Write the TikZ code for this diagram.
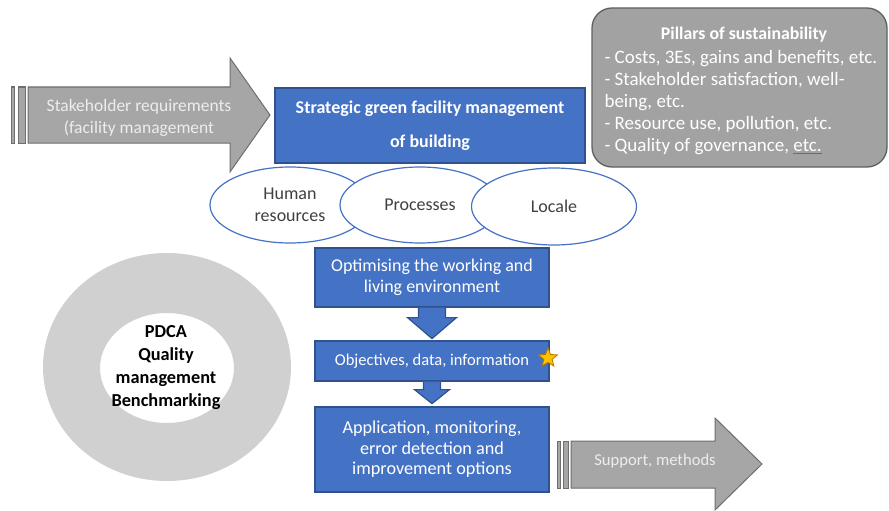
\documentclass[tikz,border=0pt]{standalone}
\usepackage{fontspec}
\setmainfont{Carlito}
\usetikzlibrary{shapes.geometric,calc}

\definecolor{fmblue}{HTML}{4472C4}
\definecolor{fmblueedge}{HTML}{2F528F}
\definecolor{arrowgray}{HTML}{A6A6A6}
\definecolor{arrowedge}{HTML}{6E6E6E}
\definecolor{pillargray}{HTML}{A2A2A2}
\definecolor{pillaredge}{HTML}{606060}
\definecolor{lighttext}{HTML}{EDEDED}
\definecolor{ringgray}{HTML}{D0D0D0}
\definecolor{darktext}{HTML}{404040}
\definecolor{stargold}{HTML}{FFC000}
\definecolor{staredge}{HTML}{B07A00}
\definecolor{spellblue}{HTML}{3F6FD0}

\tikzset{
  bluebox/.style={draw=fmblueedge, fill=fmblue, line width=1.2pt, text=white,
    align=center, inner sep=0pt},
  bluearrow/.style={draw=fmblueedge, fill=fmblue, line width=1.2pt, line join=miter},
  blockarrow/.style={draw=arrowedge, fill=arrowgray, line width=1pt, line join=miter},
  lens/.style={ellipse, draw=fmblue, fill=white, line width=1.2pt, inner sep=0pt,
    minimum width=160pt, minimum height=76pt, text=darktext, align=center,
    font=\fontsize{18}{22}\selectfont},
  arrowlabel/.style={text=lighttext, align=center},
}

\begin{document}
\begin{tikzpicture}[x=1pt, y=-1pt]
\useasboundingbox (0,0) rectangle (889,511);

% ---- incoming requirements arrow
\draw[blockarrow] (11,87) rectangle (14,143);
\draw[blockarrow] (18,87) rectangle (25,143);
\draw[blockarrow] (28,87) -- (230,87) -- (230,58) -- (270,115) -- (230,172)
  -- (230,143) -- (28,143) -- cycle;
\node[arrowlabel, font=\fontsize{17.5}{22}\selectfont] (req) at (139,118)
  {Stakeholder requirements\\(facility management};

% ---- strategic box
\node[bluebox, minimum width=310pt, minimum height=75pt,
  font=\bfseries\fontsize{18}{34}\selectfont] (strat) at (430,125.5)
  {Strategic green facility management\\of building};

% ---- pillars of sustainability
\draw[draw=pillaredge, fill=pillargray, line width=1.3pt, rounded corners=20pt]
  (592,8) rectangle (887,167);
\node[text=white, font=\bfseries\fontsize{17.8}{22}\selectfont] (pillars) at (744,35)
  {Pillars of sustainability};
\node[text=white, align=left, anchor=west, font=\fontsize{19}{22.2}\selectfont]
  (pillarlist) at (601,102.5)
  {- Costs, 3Es, gains and benefits, etc.\\
   - Stakeholder satisfaction, well-\\
   being, etc.\\
   - Resource use, pollution, etc.\\
   - Quality of governance, {\color{spellblue}\underline{\textcolor{white}{etc.}}}};

% ---- three overlapping fields
\node[lens] (human) at (290,205) {Human\\resources};
\node[lens] (proc) at (420,205) {Processes};
\node[lens, minimum width=165pt, minimum height=77pt] (locale) at (554,206.5) {Locale};

% ---- PDCA ring
\fill[ringgray, even odd rule] (167,367) ellipse [x radius=124pt, y radius=114pt]
  (167,368) ellipse [x radius=67pt, y radius=55pt];
\node[text=black, align=center, font=\bfseries\fontsize{18.3}{23}\selectfont] (pdca)
  at (166,368) {PDCA\\Quality\\management\\Benchmarking};

% ---- process chain
\node[bluebox, minimum width=234pt, minimum height=59pt,
  font=\fontsize{18}{21}\selectfont] (opt) at (432,277.5)
  {Optimising the working and\\living environment};
\node[bluebox, minimum width=234pt, minimum height=40pt,
  font=\fontsize{16.5}{20}\selectfont] (obj) at (432,361)
  {\raisebox{2.5pt}{Objectives, data, information}};
\node[bluebox, minimum width=234pt, minimum height=85pt,
  font=\fontsize{18.2}{20.5}\selectfont] (app) at (432,449.5)
  {Application, monitoring,\\error detection and\\improvement options};

\coordinate (a1) at (opt.south);
\draw[bluearrow] ($(a1)+(-13.5,0)$) -- ($(a1)+(-13.5,10)$) -- ($(a1)+(-24.5,10)$)
  -- ($(a1)+(0,31)$) -- ($(a1)+(24.5,10)$) -- ($(a1)+(13.5,10)$)
  -- ($(a1)+(13.5,0)$);
\coordinate (a2) at (obj.south);
\draw[bluearrow] ($(a2)+(-8.5,0)$) -- ($(a2)+(-8.5,8)$) -- ($(a2)+(-17.5,8)$)
  -- ($(a2)+(0,22)$) -- ($(a2)+(17.5,8)$) -- ($(a2)+(8.5,8)$)
  -- ($(a2)+(8.5,0)$);

\node[star, star points=5, star point ratio=2.3, fill=stargold, draw=staredge,
  line width=0.8pt, minimum size=20pt, inner sep=0pt] (mark) at (548,358) {};

% ---- outgoing support arrow
\draw[blockarrow] (557,441) rectangle (560,488);
\draw[blockarrow] (563,441) rectangle (568,488);
\draw[blockarrow] (571,441) -- (715,441) -- (715,418) -- (762,464) -- (715,510)
  -- (715,488) -- (571,488) -- cycle;
\node[arrowlabel, font=\fontsize{16.6}{20}\selectfont] (support) at (655,461)
  {Support, methods};
\end{tikzpicture}
\end{document}
